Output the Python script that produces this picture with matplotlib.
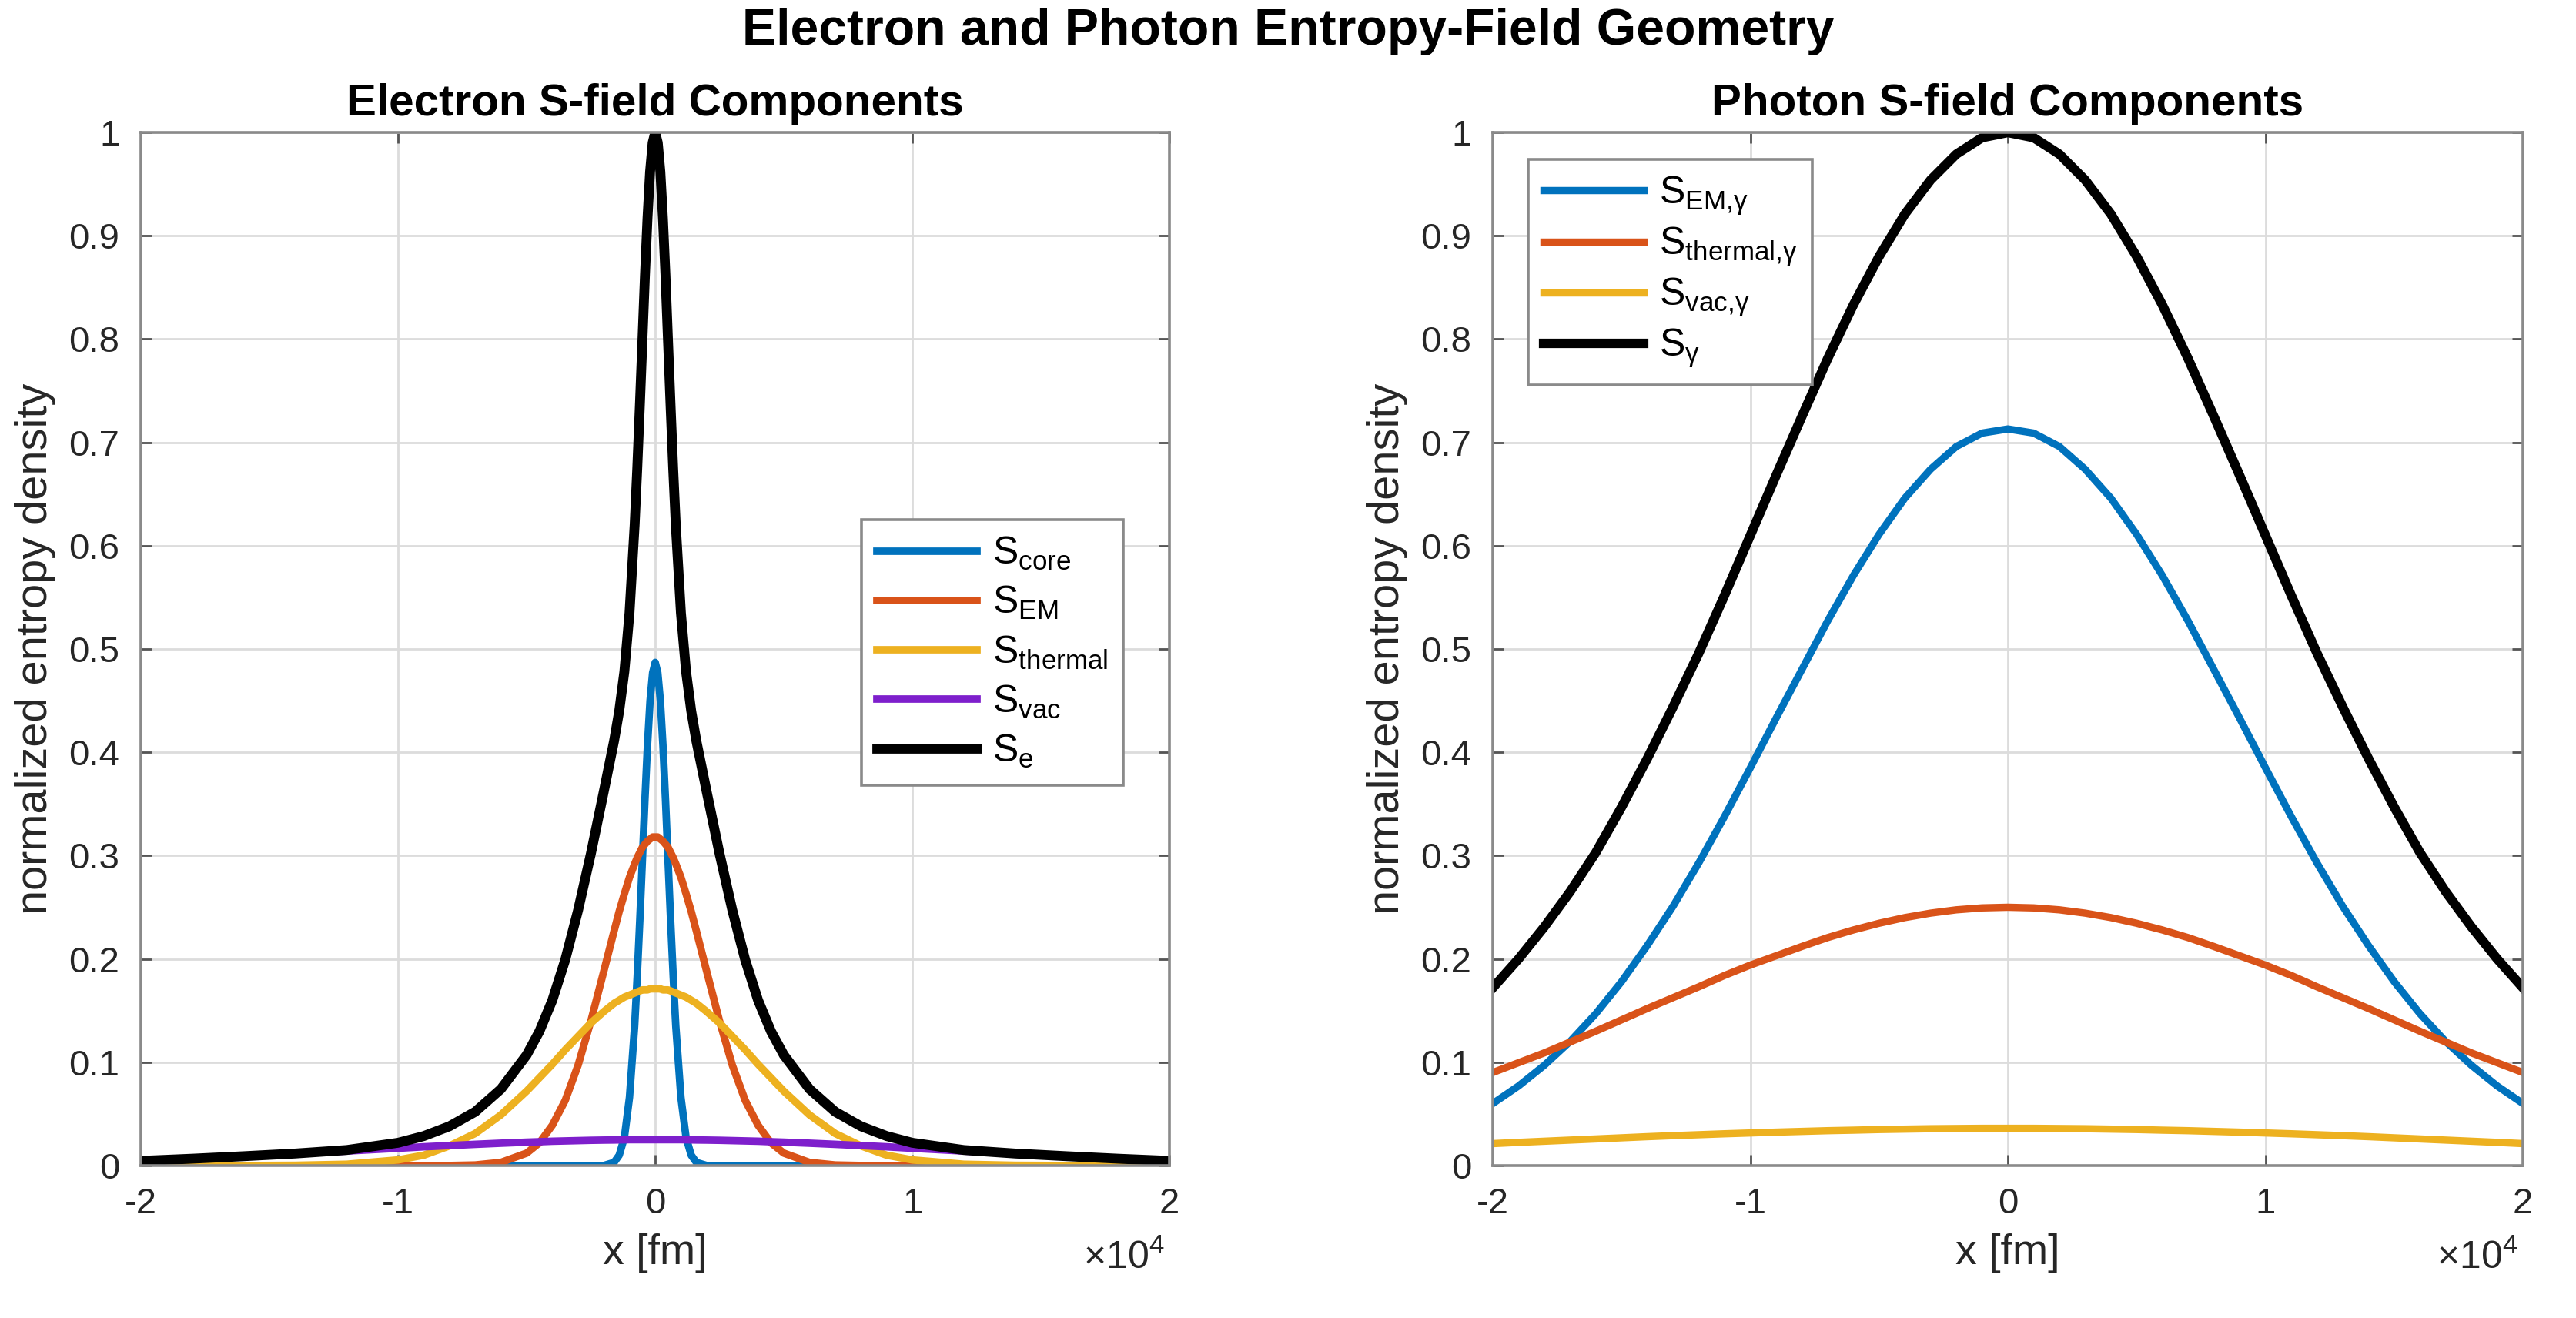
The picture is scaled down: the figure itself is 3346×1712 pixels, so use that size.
import matplotlib.pyplot as plt

plt.rcParams['font.family'] = ['Liberation Sans', 'DejaVu Sans']
plt.rcParams['mathtext.default'] = 'regular'

# ---------- electron panel (x in units of 1e4 fm) ----------
x_e = [-2.0, -1.8, -1.6, -1.4, -1.2, -1.0, -0.9, -0.8, -0.7, -0.6,
       -0.5, -0.45, -0.4, -0.35, -0.3, -0.25, -0.2, -0.16, -0.14, -0.12,
       -0.1, -0.08, -0.07, -0.06, -0.05, -0.04, -0.03, -0.02, -0.01, 0.0,
       0.01, 0.02, 0.03, 0.04, 0.05, 0.06, 0.07, 0.08, 0.1, 0.12,
       0.14, 0.16, 0.2, 0.25, 0.3, 0.35, 0.4, 0.45, 0.5, 0.6,
       0.7, 0.8, 0.9, 1.0, 1.2, 1.4, 1.6, 1.8, 2.0]

s_core = [0, 0, 0, 0, 0, 0, 0, 0, 0, 0,
          0, 0, 0, 0, 0, 0, 0, 0.003, 0.010, 0.027,
          0.066, 0.135, 0.183, 0.237, 0.295, 0.354, 0.407, 0.450, 0.477, 0.487,
          0.477, 0.450, 0.407, 0.354, 0.295, 0.237, 0.183, 0.135, 0.066, 0.027,
          0.010, 0.003, 0, 0, 0, 0, 0, 0, 0, 0,
          0, 0, 0, 0, 0, 0, 0, 0, 0]

s_em = [0, 0, 0, 0, 0, 0, 0, 0, 0.0005, 0.003,
        0.012, 0.022, 0.039, 0.063, 0.097, 0.140, 0.188, 0.227, 0.246, 0.263,
        0.279, 0.292, 0.298, 0.303, 0.308, 0.311, 0.314, 0.316, 0.318, 0.318,
        0.318, 0.316, 0.314, 0.311, 0.308, 0.303, 0.298, 0.292, 0.279, 0.263,
        0.246, 0.227, 0.188, 0.140, 0.097, 0.063, 0.039, 0.022, 0.012, 0.003,
        0.0005, 0, 0, 0, 0, 0, 0, 0, 0]

s_thermal = [0, 0, 0, 0.0002, 0.0012, 0.0054, 0.010, 0.019, 0.031, 0.049,
             0.072, 0.085, 0.098, 0.112, 0.125, 0.138, 0.149, 0.157, 0.160, 0.163,
             0.165, 0.167, 0.168, 0.169, 0.170, 0.170, 0.170, 0.171, 0.171, 0.171,
             0.171, 0.171, 0.170, 0.170, 0.170, 0.169, 0.168, 0.167, 0.165, 0.163,
             0.160, 0.157, 0.149, 0.138, 0.125, 0.112, 0.098, 0.085, 0.072, 0.049,
             0.031, 0.019, 0.010, 0.0054, 0.0012, 0.0002, 0, 0, 0]

s_vac = [0.0050, 0.0068, 0.0090, 0.0114, 0.0140, 0.0167, 0.0181, 0.0193, 0.0205, 0.0216,
         0.0226, 0.0230, 0.0235, 0.0238, 0.0241, 0.0244, 0.0246, 0.0247, 0.0248, 0.0249,
         0.0250, 0.0250, 0.0250, 0.0250, 0.0250, 0.0250, 0.0250, 0.0250, 0.0250, 0.0250,
         0.0250, 0.0250, 0.0250, 0.0250, 0.0250, 0.0250, 0.0250, 0.0250, 0.0250, 0.0249,
         0.0248, 0.0247, 0.0246, 0.0244, 0.0241, 0.0238, 0.0235, 0.0230, 0.0226, 0.0216,
         0.0205, 0.0193, 0.0181, 0.0167, 0.0140, 0.0114, 0.0090, 0.0068, 0.0050]

s_e = [0.0045, 0.0066, 0.0090, 0.0116, 0.015, 0.022, 0.0285, 0.038, 0.052, 0.074,
       0.107, 0.130, 0.160, 0.199, 0.247, 0.302, 0.362, 0.411, 0.440, 0.478,
       0.535, 0.620, 0.674, 0.734, 0.797, 0.861, 0.917, 0.962, 0.990, 1.0,
       0.990, 0.962, 0.917, 0.861, 0.797, 0.734, 0.674, 0.620, 0.535, 0.478,
       0.440, 0.411, 0.362, 0.302, 0.247, 0.199, 0.160, 0.130, 0.107, 0.074,
       0.052, 0.038, 0.0285, 0.022, 0.015, 0.0116, 0.0090, 0.0066, 0.0045]

# ---------- photon panel ----------
x_p = [-2.0, -1.9, -1.8, -1.7, -1.6, -1.5, -1.4, -1.3, -1.2, -1.1,
       -1.0, -0.9, -0.8, -0.7, -0.6, -0.5, -0.4, -0.3, -0.2, -0.1, 0.0,
       0.1, 0.2, 0.3, 0.4, 0.5, 0.6, 0.7, 0.8, 0.9, 1.0,
       1.1, 1.2, 1.3, 1.4, 1.5, 1.6, 1.7, 1.8, 1.9, 2.0]

s_em_g = [0.060, 0.077, 0.097, 0.120, 0.147, 0.178, 0.213, 0.251, 0.293, 0.338,
          0.385, 0.433, 0.480, 0.527, 0.571, 0.611, 0.646, 0.674, 0.696, 0.709, 0.713,
          0.709, 0.696, 0.674, 0.646, 0.611, 0.571, 0.527, 0.480, 0.433, 0.385,
          0.338, 0.293, 0.251, 0.213, 0.178, 0.147, 0.120, 0.097, 0.077, 0.060]
s_th_g = [0.090, 0.0995, 0.109, 0.1195, 0.130, 0.141, 0.152, 0.1625, 0.173, 0.184,
          0.194, 0.203, 0.212, 0.2206, 0.228, 0.2345, 0.240, 0.2443, 0.2475, 0.2494, 0.250,
          0.2494, 0.2475, 0.2443, 0.240, 0.2345, 0.228, 0.2206, 0.212, 0.203, 0.194,
          0.184, 0.173, 0.1625, 0.152, 0.141, 0.130, 0.1195, 0.109, 0.0995, 0.090]
s_vac_g = [0.0212, 0.0224, 0.0235, 0.0246, 0.0257, 0.0268, 0.0279, 0.0289, 0.0298, 0.0307,
           0.0315, 0.0323, 0.0330, 0.0337, 0.0342, 0.0348, 0.0352, 0.0356, 0.0358, 0.0360, 0.0360,
           0.0360, 0.0358, 0.0356, 0.0352, 0.0348, 0.0342, 0.0337, 0.0330, 0.0323, 0.0315,
           0.0307, 0.0298, 0.0289, 0.0279, 0.0268, 0.0257, 0.0246, 0.0235, 0.0224, 0.0212]
s_g = [0.172, 0.200, 0.231, 0.265, 0.303, 0.347, 0.394, 0.444, 0.496, 0.552,
       0.610, 0.668, 0.725, 0.781, 0.833, 0.880, 0.921, 0.954, 0.979, 0.995, 1.0,
       0.995, 0.979, 0.954, 0.921, 0.880, 0.833, 0.781, 0.725, 0.668, 0.610,
       0.552, 0.496, 0.444, 0.394, 0.347, 0.303, 0.265, 0.231, 0.200, 0.172]

blue, orange, yellow, purple = '#0072BD', '#D95319', '#EDB120', '#7E1FCC'
txt = '#262626'

fig = plt.figure(figsize=(16.73, 8.56), dpi=200)
ax1 = fig.add_axes([0.0547, 0.1157, 0.3993, 0.7838])
ax2 = fig.add_axes([0.5795, 0.1157, 0.3999, 0.7838])

ax1.plot(x_e, s_core, color=blue, lw=3.5, label='$S_{core}$')
ax1.plot(x_e, s_em, color=orange, lw=3.5, label='$S_{EM}$')
ax1.plot(x_e, s_thermal, color=yellow, lw=3.5, label='$S_{thermal}$')
ax1.plot(x_e, s_vac, color=purple, lw=3.5, label='$S_{vac}$')
ax1.plot(x_e, s_e, color='black', lw=4.6, label='$S_e$')

ax2.plot(x_p, s_em_g, color=blue, lw=3.4, label='$S_{EM{,}γ}$')
ax2.plot(x_p, s_th_g, color=orange, lw=3.4, label='$S_{thermal{,}γ}$')
ax2.plot(x_p, s_vac_g, color=yellow, lw=3.4, label='$S_{vac{,}γ}$')
ax2.plot(x_p, s_g, color='black', lw=4.4, label='$S_{γ}$')

titles = ['Electron S-field Components', 'Photon S-field Components']
for ax, t in zip([ax1, ax2], titles):
    ax.set_xlim(-2, 2)
    ax.set_ylim(0, 1)
    ax.set_xticks([-2, -1, 0, 1, 2])
    ax.set_xticklabels(['-2', '-1', '0', '1', '2'])
    ax.set_yticks([i / 10 for i in range(11)])
    ax.set_yticklabels(['0', '0.1', '0.2', '0.3', '0.4', '0.5', '0.6', '0.7', '0.8', '0.9', '1'])
    ax.grid(True, color='#dcdcdc', lw=1.0)
    ax.set_axisbelow(True)
    ax.tick_params(direction='in', top=True, right=True, length=5, width=1,
                   colors='#555555', labelcolor=txt, labelsize=17, pad=10)
    for sp in ax.spines.values():
        sp.set_color('#8a8a8a')
        sp.set_linewidth(1.3)
    ax.set_title(t, fontsize=21, fontweight='bold', color='black', pad=8)
    ax.set_xlabel('x [fm]', fontsize=20, color=txt, labelpad=6)
    ax.set_ylabel('normalized entropy density', fontsize=20.8, color=txt, labelpad=6)
    ax.text(0.995, -0.09, '×10$^{4}$', transform=ax.transAxes, ha='right', va='center',
            fontsize=18, color=txt)

leg_kw = dict(fontsize=18, fancybox=False, framealpha=1, edgecolor='#8a8a8a',
              handlelength=2.6, handletextpad=0.4, borderpad=0.4, borderaxespad=0)
l1 = ax1.legend(loc='upper right', bbox_to_anchor=(0.955, 0.625), labelspacing=0.32, **leg_kw)
l2 = ax2.legend(loc='upper left', bbox_to_anchor=(0.034, 0.974), labelspacing=0.22, **leg_kw)
for lg in (l1, l2):
    lg.get_frame().set_linewidth(1.3)

fig.suptitle('Electron and Photon Entropy-Field Geometry', fontsize=23.8,
             fontweight='bold', y=0.976, va='center')

fig.savefig('out.png', dpi=200)
